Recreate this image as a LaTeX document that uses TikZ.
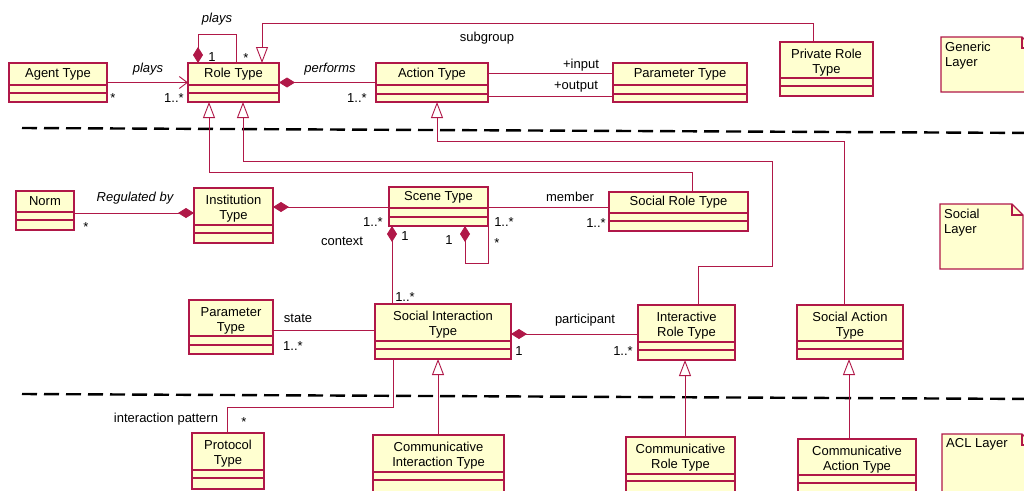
\documentclass[tikz,border=0pt]{standalone}
\usepackage{fontspec}
\setmainfont{Liberation Sans}
\usetikzlibrary{arrows.meta}

\definecolor{umlred}{RGB}{176,24,72}
\definecolor{umlfill}{RGB}{255,255,208}

\tikzset{
  classbox/.style={rectangle, draw=umlred, fill=umlfill, line width=1.3pt, inner sep=0pt, outer sep=0pt},
  sepline/.style={draw=umlred, line width=1.1pt},
  title/.style={font=\fontsize{13}{15}\selectfont, align=center, inner sep=0pt},
  twoline/.style={yshift=-2.5pt},
  lbl/.style={font=\fontsize{13}{15}\selectfont, inner sep=0pt, anchor=base},
  ilbl/.style={lbl, font=\fontsize{13}{15}\selectfont\itshape},
  link/.style={draw=umlred, line width=0.9pt},
  assocarrow/.style={link, -{Straight Barb[length=8pt,width=12pt]}},
  compstart/.style={link, {Diamond[length=16pt,width=10pt,fill=umlred]}-},
  compend/.style={link, -{Diamond[length=16pt,width=10pt,fill=umlred]}},
  genarrow/.style={link, -{Triangle[open,length=16pt,width=12pt,fill=white]}},
  layerline/.style={draw=black, line width=2.4pt, dash pattern=on 15pt off 7pt},
  notebox/.style={draw=umlred, fill=umlfill, line width=1.3pt},
}

% UML class: name, left, top, right, bottom, separator 1, separator 2, title, title options
\newcommand\umlclass[9]{%
  \node[classbox, anchor=north west, minimum width={(#4-#2)*1pt}, minimum height={(#5-#3)*1pt}] (#1) at (#2,#3) {};
  \draw[sepline] (#1.west |- 0,#6) -- (#1.east |- 0,#6)
                 (#1.west |- 0,#7) -- (#1.east |- 0,#7);
  \node[title, #9] (#1-name) at ({(#2+#4)/2},{(#3+#6)/2}) {#8};
}

% UML note with a folded corner: name, left, top, right, bottom, text
\newcommand\umlnote[6]{%
  \node[rectangle, inner sep=0pt, outer sep=0pt, anchor=north west, minimum width={(#4-#2)*1pt}, minimum height={(#5-#3)*1pt}] (#1) at (#2,#3) {};
  \filldraw[notebox] (#1.north west) -- ([xshift=-11pt]#1.north east) -- ([yshift=-11pt]#1.north east)
     -- (#1.south east) -- (#1.south west) -- cycle;
  \draw[notebox, fill=none] ([xshift=-11pt]#1.north east) |- ([yshift=-11pt]#1.north east);
  \node[title, align=left, anchor=north west] (#1-text) at (#2+4,#3+4.5) {#6};
}

\begin{document}
\begin{tikzpicture}[x=1pt, y=-1pt]
\path[use as bounding box] (0,0) rectangle (1024,490);
\clip (0,0) rectangle (1024,490);

% layer separators
\draw[layerline] (22,128) -- (1040,133);
\draw[layerline] (22,394) -- (1040,399);

% generic layer
\umlclass{agent}{9}{63}{107}{102}{85}{93}{Agent Type}{}
\umlclass{role}{188}{63}{279}{102}{85}{93}{Role Type}{}
\umlclass{action}{376}{63}{488}{102}{85}{94}{Action Type}{}
\umlclass{paramA}{613}{63}{747}{102}{85}{94}{Parameter Type}{}
\umlclass{private}{780}{42}{873}{96}{78}{86}{Private Role\\Type}{twoline}

% social layer
\umlclass{norm}{16}{191}{74}{230}{212}{220}{Norm}{}
\umlclass{inst}{194}{188}{273}{243}{225}{233}{Institution\\Type}{twoline}
\umlclass{scene}{389}{187}{488}{226}{208}{217}{Scene Type}{}
\umlclass{socrole}{609}{192}{748}{231}{213}{221}{Social Role Type}{}
\umlclass{paramB}{189}{300}{273}{354}{336}{345}{Parameter\\Type}{twoline}
\umlclass{socint}{375}{304}{511}{359}{341}{349}{Social Interaction\\Type}{twoline}
\umlclass{introle}{638}{305}{735}{360}{342}{350}{Interactive\\Role Type}{twoline}
\umlclass{socact}{797}{305}{903}{359}{341}{349}{Social Action\\Type}{twoline}

% ACL layer
\umlclass{protocol}{192}{433}{264}{489}{470}{478}{Protocol\\Type}{twoline}
\umlclass{comint}{373}{435}{504}{500}{472}{480}{Communicative\\Interaction Type}{twoline}
\umlclass{comrole}{626}{437}{735}{500}{474}{481}{Communicative\\Role Type}{twoline}
\umlclass{comact}{798}{439}{916}{500}{475}{483}{Communicative\\Action Type}{twoline}

% layer notes
\umlnote{generic}{941}{37}{1033}{92}{Generic\\Layer}
\umlnote{social}{940}{204}{1023}{269}{Social\\Layer}
\umlnote{acl}{942}{434}{1033}{500}{ACL Layer}

% associations
\draw[assocarrow] (agent.east) -- (role.west);
\draw[compstart] (role.north -| 198,0) |- (236,34) -- (role.north -| 236,0);
\draw[compstart] (role.east) -- (action.west);
\draw[link] (action.east |- 0,73) -- (paramA.west |- 0,73);
\draw[link] (action.east |- 0,96) -- (paramA.west |- 0,96);
\draw[compend] (norm.east |- 0,213) -- (inst.west |- 0,213);
\draw[compstart] (inst.east |- 0,207) -- (scene.west |- 0,207);
\draw[link] (scene.east |- 0,207) -- (socrole.west |- 0,207);
\draw[compstart] (scene.south -| 392,0) -- (socint.north -| 392,0);
\draw[compstart] (scene.south -| 465,0) |- (scene.south east |- 0,263) -- (scene.south east);
\draw[link] (paramB.east |- 0,330) -- (socint.west |- 0,330);
\draw[compstart] (socint.east |- 0,334) -- (introle.west |- 0,334);
\draw[link] (socint.south -| 393,0) |- (227,407) -- (protocol.north -| 227,0);

% generalizations
\draw[genarrow] (private.north -| 813,0) |- (262,23) -- (role.north -| 262,0);
\draw[genarrow] (socrole.north -| 692,0) |- (209,172) -- (role.south -| 209,0);
\draw[genarrow] (introle.north -| 698,0) |- (772,266) |- (243,161) -- (role.south -| 243,0);
\draw[genarrow] (socact.north -| 844,0) |- (437,141) -- (action.south -| 437,0);
\draw[genarrow] (comint.north -| 438,0) -- (socint.south -| 438,0);
\draw[genarrow] (comrole.north -| 685,0) -- (introle.south -| 685,0);
\draw[genarrow] (comact.north -| 849,0) -- (socact.south -| 849,0);

% role names and multiplicities
\node[ilbl] (l-plays1) at (148,72) {plays};
\node[ilbl] (l-plays2) at (217,22) {plays};
\node[lbl] (m-rr1) at (212,61) {1};
\node[lbl] (m-rr2) at (246,62) {*};
\node[lbl] (m-ag) at (113,102) {*};
\node[lbl] (m-ro) at (174,102) {1..*};
\node[ilbl] (l-perf) at (330,72) {performs};
\node[lbl] (m-ac) at (357,102) {1..*};
\node[lbl] (l-sub) at (487,41) {subgroup};
\node[lbl] (l-in) at (581,68) {+input};
\node[lbl] (l-out) at (576,89) {+output};
\node[ilbl] (l-reg) at (135,201) {Regulated by};
\node[lbl] (m-norm) at (86,231) {*};
\node[lbl] (l-ctx) at (342,245) {context};
\node[lbl] (m-sc1) at (373,226) {1..*};
\node[lbl] (m-sc2) at (405,240) {1};
\node[lbl] (m-sc3) at (504,226) {1..*};
\node[lbl] (m-sc4) at (449,244) {1};
\node[lbl] (m-sc5) at (497,247) {*};
\node[lbl] (l-mem) at (570,201) {member};
\node[lbl] (m-sr) at (596,227) {1..*};
\node[lbl] (m-si1) at (405,301) {1..*};
\node[lbl] (l-state) at (298,322) {state};
\node[lbl] (m-pb) at (293,350) {1..*};
\node[lbl] (l-part) at (585,323) {participant};
\node[lbl] (m-si2) at (519,355) {1};
\node[lbl] (m-ir) at (623,355) {1..*};
\node[lbl] (l-ip) at (166,422) {interaction pattern};
\node[lbl] (m-pr) at (244,426) {*};
\end{tikzpicture}
\end{document}
